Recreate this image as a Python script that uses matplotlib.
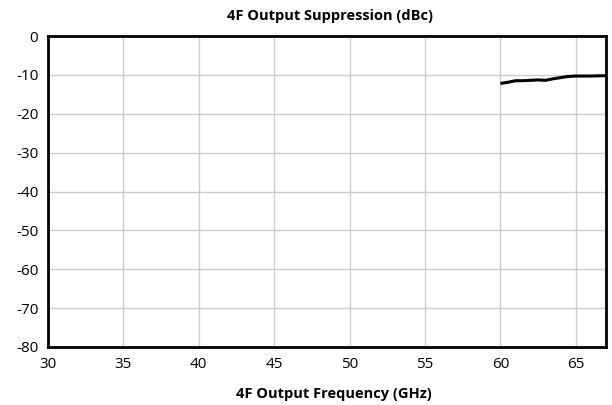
import numpy as np
import matplotlib.pyplot as plt

plt.rcParams['font.family'] = ['Open Sans', 'DejaVu Sans']
plt.rcParams['axes.unicode_minus'] = False

# 4F output suppression
freq_ghz = [60.0, 60.5, 61.0, 61.5, 62.0, 62.5, 63.0, 63.5, 64.0, 64.5, 65.0, 65.5, 66.0, 66.5, 67.0]
supp_dbc = [-12.2, -11.9, -11.5, -11.5, -11.4, -11.3, -11.4, -11.0, -10.7, -10.4, -10.3, -10.3, -10.3, -10.25, -10.2]

xticks = [30, 35, 40, 45, 50, 55, 60, 65]
yticks = [0, -10, -20, -30, -40, -50, -60, -70, -80]

fig = plt.figure(figsize=(6.12, 4.05), dpi=100)
ax = fig.add_axes([48/612, 1 - 347/405, (606-48)/612, (347-36)/405])

ax.plot(freq_ghz, supp_dbc, color='black', lw=2.2, solid_capstyle='butt', zorder=3)

ax.set_xlim(30, 67)
ax.set_ylim(-80, 0)
ax.set_xticks(xticks)
ax.set_yticks(yticks)
ax.grid(True, color='#cccccc', lw=1)
ax.set_axisbelow(True)
for s in ax.spines.values():
    s.set_linewidth(2)
    s.set_color('black')
ax.tick_params(length=0, labelsize=11, pad=7)

fig.text(330/612, 1 - 16/405, '4F Output Suppression (dBc)', ha='center', va='center',
         fontsize=10.5, fontweight='bold')
fig.text(334/612, 1 - 394/405, '4F Output Frequency (GHz)', ha='center', va='center',
         fontsize=10.5, fontweight='bold')

fig.savefig('out.png', dpi=100)
